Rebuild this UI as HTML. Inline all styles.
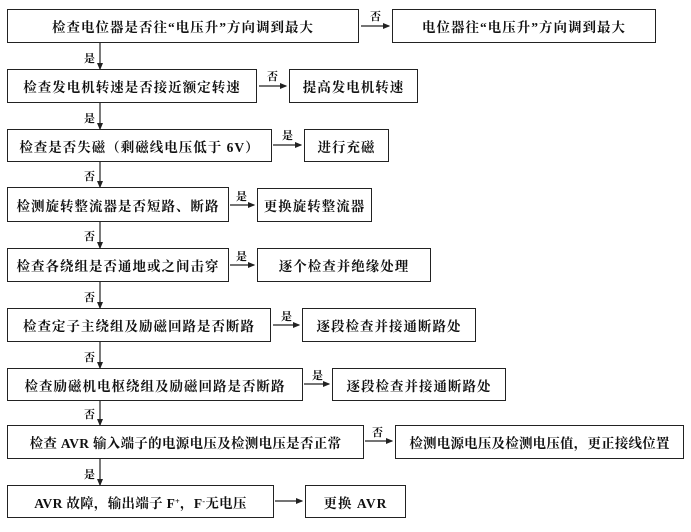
<!DOCTYPE html>
<html><head><meta charset="utf-8"><style>
body{margin:0;width:691px;height:532px;background:#fff;position:relative;overflow:hidden;font-family:"Liberation Serif","Noto Serif CJK SC","Noto Sans CJK SC",serif;color:#111}
.b{position:absolute;border:1.3px solid #222;box-sizing:border-box;display:flex;align-items:center;justify-content:center;font-size:13.5px;font-weight:bold;letter-spacing:1px;white-space:nowrap}
.l{position:absolute;font-size:11px;font-weight:bold}
svg{position:absolute;left:0;top:0}
</style></head><body>
<svg width="691" height="532">
<defs><marker id="a" markerWidth="6" markerHeight="6" refX="5" refY="3" orient="auto"><path d="M0,0.5 L6,3 L0,5.5z" fill="#222"/></marker></defs>
<g stroke="#222" stroke-width="1.2" marker-end="url(#a)">
<line x1="100" y1="42" x2="100" y2="69"/>
<line x1="100" y1="102" x2="100" y2="129"/>
<line x1="100" y1="161" x2="100" y2="187"/>
<line x1="100" y1="222" x2="100" y2="248"/>
<line x1="100" y1="282" x2="100" y2="308"/>
<line x1="100" y1="342" x2="100" y2="368"/>
<line x1="100" y1="401" x2="100" y2="425"/>
<line x1="100" y1="458" x2="100" y2="485"/>
<line x1="361" y1="26" x2="389" y2="26"/>
<line x1="259" y1="86" x2="286" y2="86"/>
<line x1="273" y1="145" x2="301" y2="145"/>
<line x1="230" y1="205" x2="254" y2="205"/>
<line x1="230" y1="265" x2="254" y2="265"/>
<line x1="273" y1="325" x2="299" y2="325"/>
<line x1="304" y1="384" x2="329" y2="384"/>
<line x1="365" y1="441" x2="392" y2="441"/>
<line x1="275" y1="501" x2="302" y2="501"/>
</g></svg>
<div class="b" style="left:7px;top:9px;width:352px;height:34px">检查电位器是否往“电压升”方向调到最大</div>
<div class="b" style="left:392px;top:9px;width:264px;height:34px">电位器往“电压升”方向调到最大</div>
<div class="b" style="left:7px;top:69px;width:250px;height:34px">检查发电机转速是否接近额定转速</div>
<div class="b" style="left:289px;top:69px;width:129px;height:34px">提高发电机转速</div>
<div class="b" style="left:7px;top:129px;width:265px;height:33px">检查是否失磁（剩磁线电压低于 6V）</div>
<div class="b" style="left:304px;top:129px;width:85px;height:33px">进行充磁</div>
<div class="b" style="left:7px;top:187px;width:222px;height:35px">检测旋转整流器是否短路、断路</div>
<div class="b" style="left:257px;top:188px;width:115px;height:34px">更换旋转整流器</div>
<div class="b" style="left:7px;top:248px;width:222px;height:34px">检查各绕组是否通地或之间击穿</div>
<div class="b" style="left:257px;top:248px;width:174px;height:34px">逐个检查并绝缘处理</div>
<div class="b" style="left:7px;top:308px;width:264px;height:34px">检查定子主绕组及励磁回路是否断路</div>
<div class="b" style="left:302px;top:308px;width:174px;height:34px">逐段检查并接通断路处</div>
<div class="b" style="left:7px;top:368px;width:296px;height:33px">检查励磁机电枢绕组及励磁回路是否断路</div>
<div class="b" style="left:332px;top:368px;width:174px;height:33px">逐段检查并接通断路处</div>
<div class="b" style="left:7px;top:425px;width:357px;height:34px;letter-spacing:0.3px">检查 AVR 输入端子的电源电压及检测电压是否正常</div>
<div class="b" style="left:395px;top:425px;width:289px;height:34px;letter-spacing:0.2px">检测电源电压及检测电压值，更正接线位置</div>
<div class="b" style="left:7px;top:485px;width:267px;height:33px;letter-spacing:0.3px">AVR 故障，输出端子 F<sub style="font-size:8px">+</sub>，F<sub style="font-size:8px">-</sub> 无电压</div>
<div class="b" style="left:305px;top:485px;width:101px;height:33px">更换 AVR</div>
<div class="l" style="left:370px;top:8px">否</div>
<div class="l" style="left:267px;top:68px">否</div>
<div class="l" style="left:282px;top:127px">是</div>
<div class="l" style="left:236px;top:188px">是</div>
<div class="l" style="left:236px;top:248px">是</div>
<div class="l" style="left:281px;top:308px">是</div>
<div class="l" style="left:312px;top:367px">是</div>
<div class="l" style="left:372px;top:424px">否</div>
<div class="l" style="left:84px;top:50px">是</div>
<div class="l" style="left:84px;top:110px">是</div>
<div class="l" style="left:84px;top:168px">否</div>
<div class="l" style="left:84px;top:228px">否</div>
<div class="l" style="left:84px;top:289px">否</div>
<div class="l" style="left:84px;top:349px">否</div>
<div class="l" style="left:84px;top:406px">否</div>
<div class="l" style="left:84px;top:466px">是</div>
</body></html>
